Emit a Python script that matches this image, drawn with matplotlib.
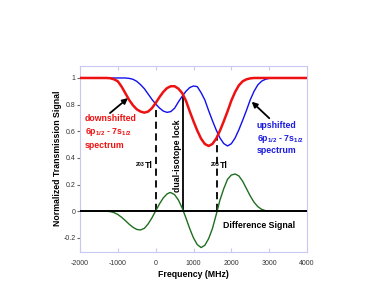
import matplotlib
matplotlib.use('Agg')
import matplotlib.pyplot as plt

plt.rcParams['font.family'] = ['Liberation Sans', 'DejaVu Sans']
plt.rcParams['axes.unicode_minus'] = False
plt.rcParams['mathtext.default'] = 'regular'

# downshifted spectrum (red)
red_freq = [-2000, -1300, -1200, -1100, -1000, -900, -800, -700, -600, -500, -400, -300,
            -200, -100, 0, 100, 200, 300, 400, 500, 600, 700, 800, 900, 1000, 1100,
            1200, 1300, 1400, 1500, 1600, 1700, 1800, 1900, 2000, 2100, 2200, 2300,
            2400, 2500, 2600, 4000]
red_sig = [1.0, 1.0, 0.998, 0.99, 0.975, 0.935, 0.885, 0.835, 0.795, 0.765, 0.748, 0.74,
           0.748, 0.773, 0.812, 0.856, 0.895, 0.924, 0.938, 0.938, 0.92, 0.887, 0.83, 0.75,
           0.675, 0.605, 0.545, 0.505, 0.49, 0.505, 0.545, 0.605, 0.675, 0.75, 0.83, 0.895,
           0.945, 0.975, 0.99, 0.997, 1.0, 1.0]

# upshifted spectrum (blue)
blue_freq = [-2000, -800, -700, -600, -500, -400, -300, -200, -100, 0, 100, 200, 300, 400,
             500, 600, 700, 800, 900, 1000, 1100, 1200, 1300, 1400, 1500, 1600, 1700, 1800,
             1900, 2000, 2100, 2200, 2300, 2400, 2500, 2600, 2700, 2800, 2900, 3000, 3100, 4000]
blue_sig = [1.0, 1.0, 0.997, 0.99, 0.975, 0.95, 0.92, 0.88, 0.84, 0.805, 0.775, 0.752, 0.742,
            0.748, 0.773, 0.82, 0.862, 0.9, 0.928, 0.94, 0.935, 0.89, 0.835, 0.755, 0.68,
            0.61, 0.55, 0.508, 0.49, 0.507, 0.55, 0.612, 0.683, 0.757, 0.836, 0.9, 0.948,
            0.976, 0.99, 0.997, 1.0, 1.0]

# difference signal (green)
diff_freq = [-2000, -1300, -1200, -1100, -1000, -900, -800, -700, -600, -500, -400, -300,
             -200, -100, 0, 100, 200, 300, 370, 400, 500, 600, 700, 800, 900, 1000, 1100,
             1200, 1300, 1400, 1500, 1600, 1700, 1800, 1900, 2000, 2100, 2200, 2300, 2400,
             2500, 2600, 2700, 2800, 2900, 3000, 3100, 4000]
diff_sig = [0, 0, -0.002, -0.01, -0.024, -0.045, -0.07, -0.097, -0.12, -0.136, -0.14, -0.128,
            -0.095, -0.05, 0.003, 0.055, 0.1, 0.13, 0.14, 0.14, 0.125, 0.085, 0.025, -0.05,
            -0.13, -0.2, -0.25, -0.272, -0.255, -0.205, -0.13, -0.025, 0.085, 0.17, 0.24,
            0.272, 0.28, 0.265, 0.225, 0.17, 0.115, 0.068, 0.035, 0.015, 0.005, 0.001, 0, 0]

# marker lines: (frequency, top of line)
tl203 = (0, 0.76)
lock = (730, 0.872)
tl205 = (1630, 0.55)

xticks = [-2000, -1000, 0, 1000, 2000, 3000, 4000]
yticks = [-0.2, 0, 0.2, 0.4, 0.6, 0.8, 1]
ytick_labels = ['-0.2', '0', '0.2', '0.4', '0.6', '0.8', '1']

fig = plt.figure(figsize=(3.85, 2.98), dpi=100)
ax = fig.add_axes([0.2078, 0.1554, 0.5896, 0.6241])

frame = '#c8c8f4'
ax.plot(blue_freq, blue_sig, color='#1010ee', lw=1.0, zorder=3)
ax.plot(red_freq, red_sig, color='#ee1111', lw=1.8, zorder=3)
ax.plot(diff_freq, diff_sig, color='#1f6e1f', lw=1.0, zorder=3)
ax.axhline(0, color='black', lw=1.4, zorder=4)

ax.plot([tl203[0], tl203[0]], [0, tl203[1]], color='black', lw=1.3, ls=(0, (4, 2.5)), zorder=2)
ax.plot([tl205[0], tl205[0]], [0, tl205[1]], color='black', lw=1.3, ls=(0, (4, 2.5)), zorder=2)
ax.plot([lock[0], lock[0]], [0, lock[1]], color='black', lw=1.3, zorder=2)

ax.set_xlim(-2000, 4000)
ax.set_ylim(-0.303, 1.092)
ax.set_xticks(xticks)
ax.set_xticklabels([str(t) for t in xticks])
ax.set_yticks(yticks)
ax.set_yticklabels(ytick_labels)
for s in ax.spines.values():
    s.set_color(frame)
    s.set_linewidth(0.8)
ax.tick_params(axis='x', direction='in', length=3, color=frame, top=True,
               labelsize=5, labelcolor='#333333', pad=6)
ax.tick_params(axis='y', direction='out', length=2, color='#666666',
               labelsize=5, labelcolor='#333333', pad=1.2)

ax.set_xlabel('Frequency (MHz)', fontsize=6.3, fontweight='bold')
ax.set_ylabel('Normalized Transmission Signal', fontsize=6.3, fontweight='bold')
ax.xaxis.set_label_coords(0.5, -0.101)
ax.yaxis.set_label_coords(-0.078, 0.5)

fs = 6.3
red = '#ee1111'
blue = '#1a1ae0'
ax.text(-1868, 0.677, 'downshifted', color=red, fontsize=fs, fontweight='bold', va='baseline')
ax.text(-1868, 0.578, '6p$_{1/2}$ - 7s$_{1/2}$', color=red, fontsize=fs, fontweight='bold', va='baseline')
ax.text(-1868, 0.478, 'spectrum', color=red, fontsize=fs, fontweight='bold', va='baseline')

ax.text(2670, 0.625, 'upshifted', color=blue, fontsize=fs, fontweight='bold', va='baseline')
ax.text(2670, 0.528, '6p$_{1/2}$ - 7s$_{1/2}$', color=blue, fontsize=fs, fontweight='bold', va='baseline')
ax.text(2670, 0.435, 'spectrum', color=blue, fontsize=fs, fontweight='bold', va='baseline')

ax.annotate('', xy=(-731, 0.849), xytext=(-1207, 0.737),
            arrowprops=dict(arrowstyle='-|>', color='black', lw=1.3, mutation_scale=8,
                            shrinkA=0, shrinkB=0))
ax.annotate('', xy=(2538, 0.822), xytext=(3003, 0.698),
            arrowprops=dict(arrowstyle='-|>', color='black', lw=1.3, mutation_scale=8,
                            shrinkA=0, shrinkB=0))

ax.text(-285, 0.34, '203', fontsize=3.8, fontweight='bold', ha='right', va='baseline')
ax.text(-285, 0.325, 'Tl', fontsize=fs, fontweight='bold', ha='left', va='baseline')
ax.text(1700, 0.34, '205', fontsize=3.8, fontweight='bold', ha='right', va='baseline')
ax.text(1700, 0.325, 'Tl', fontsize=fs, fontweight='bold', ha='left', va='baseline')

ax.text(590, 0.42, 'dual-isotope lock', fontsize=fs, fontweight='bold', rotation=90,
        ha='center', va='center')
ax.text(1772, -0.104, 'Difference Signal', fontsize=fs, fontweight='bold', va='center')

fig.savefig('out.png', dpi=100)
